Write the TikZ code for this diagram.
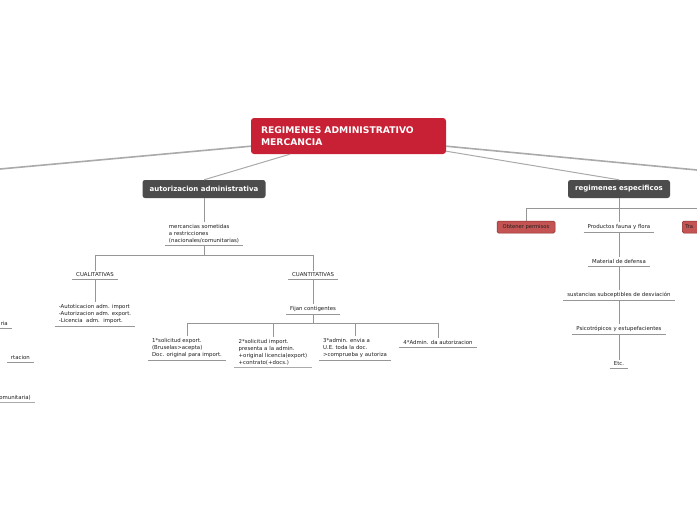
\documentclass[tikz,border=0pt]{standalone}
\usepackage{fontspec}
\setmainfont{DejaVu Sans}
\usetikzlibrary{calc}
\definecolor{rootred}{RGB}{200,32,52}
\definecolor{darkg}{RGB}{76,76,76}
\definecolor{lineg}{RGB}{170,170,170}
\definecolor{conng}{RGB}{150,150,150}
\definecolor{permfill}{RGB}{196,84,84}
\definecolor{permdraw}{RGB}{140,40,40}
\definecolor{txtc}{RGB}{30,30,30}
\begin{document}
\begin{tikzpicture}[x=1pt,y=-1pt,
  thickline/.style={draw=lineg, line width=1.6pt},
  thinline/.style={draw=lineg, line width=1pt},
  conn/.style={draw=conng, line width=0.7pt},
  ul/.style={draw=conng, line width=0.6pt},
  rootbox/.style={fill=rootred, rounded corners=3pt, text=white, font=\fontsize{9.2}{12}\selectfont\bfseries, align=left, minimum width=195pt, minimum height=36pt, text width=175pt, inner sep=0pt},
  darkbox/.style={fill=darkg, rounded corners=2.5pt, text=white, font=\fontsize{7}{8}\selectfont\bfseries, minimum height=18pt, inner sep=0pt},
  txt/.style={font=\fontsize{5.4}{7}\selectfont, align=left, inner xsep=4pt, inner ysep=2pt, text=txtc},
  permbox/.style={fill=permfill, draw=permdraw, line width=0.5pt, rounded corners=1.5pt, font=\fontsize{5.2}{6}\selectfont, text=txtc, minimum height=12pt, inner sep=0pt}
]
\useasboundingbox[fill=white] (0,0) rectangle (697,520);

% main nodes
\node[rootbox] (root) at (348.5,136) {REGIMENES ADMINISTRATIVO\\MERCANCIA};
\node[darkbox, minimum width=123pt] (auto) at (204,189) {autorizacion administrativa};
\node[darkbox, minimum width=102pt] (reg) at (619,189) {regimenes especificos};

% left branch texts
\node[txt, anchor=south] (merc) at (204,245) {mercancias sometidas\\a restricciones\\(nacionales/comunitarias)};
\node[txt, anchor=south] (cual) at (95,279) {CUALITATIVAS};
\node[txt, anchor=south] (cuan) at (313,279) {CUANTITATIVAS};
\node[txt, anchor=south] (lic) at (95,326) {-Autoticacion adm. import\\-Autorizacion adm. export.\\-Licencia\ \ adm.\ \ import.};
\node[txt, anchor=south] (fijan) at (313,314) {Fijan contigentes};
\node[txt, anchor=south] (s1) at (187,360) {1*solicitud export.\\(Bruselas>acepta)\\Doc. original para import.};
\node[txt, anchor=south] (s2) at (273,367) {2*solicitud import.\\presenta a la admin.\\+original licencia(export)\\+contrato(+docs.)};
\node[txt, anchor=south] (s3) at (355,360) {3*admin. envia a\\U.E. toda la doc.\\>comprueba y autoriza};
\node[txt, anchor=south] (s4) at (438,347) {4*Admin. da autorizacion};

% cut texts on the left edge
\node[txt, anchor=south east] (c1) at (12,328) {ria};
\node[txt, anchor=south east] (c2) at (34,362) {rtacion};
\node[txt, anchor=south east] (c3) at (35,402) {omunitaria)};

% right branch
\node[permbox, minimum width=58pt] (obt) at (526,227) {Obtener permisos};
\node[permbox, minimum width=40pt, anchor=west, text width=34pt, align=left] (tra) at (682,227) {Tra};
\node[txt, anchor=south] (prod) at (619,232) {Productos fauna y flora};
\node[txt, anchor=south] (mat) at (619,266) {Material de defensa};
\node[txt, anchor=south] (sust) at (619,300) {sustancias subceptibles de desviación};
\node[txt, anchor=south] (psic) at (619,334) {Psicotrópicos y estupefacientes};
\node[txt, anchor=south] (etc) at (619,368) {Etc.};

% underlines
\foreach \n in {merc,cual,cuan,lic,fijan,s1,s3,s4,prod,mat,sust,psic,etc,c1,c2}
  \draw[ul] (\n.south west) -- (\n.south east);
\draw[draw=lineg, line width=1pt] (s2.south west) -- (s2.south east);
\draw[draw=lineg, line width=1pt] (c3.south west) -- (c3.south east);

% free ends
\coordinate (L) at (0,169);
\coordinate (R) at (697,170);
\coordinate (j1) at (204,255);
\coordinate (j2) at (313,323);
\coordinate (j3) at (619,208);
\coordinate (rEdge) at (697,208);

% root connectors
\draw[thickline] ($(root.south west)+(0,-8)$) -- (L);
\draw[thickline] ($(root.south east)+(0,-8)$) -- (R);
\draw[thinline] ($(root.south east)+(0,-3)$) -- (reg.north);
\draw[thinline] ($(root.south west)!0.2!(root.south east)$) -- (auto.north);

% tree connectors, left
\draw[conn] (auto.south) -- (merc.north);
\draw[conn] (merc.south) -- (j1);
\draw[conn] (j1) -| (cual.north);
\draw[conn] (j1) -| (cuan.north);
\draw[conn] (cual.south) -- (lic.north);
\draw[conn] (cuan.south) -- (fijan.north);
\draw[conn] (fijan.south) -- (j2);
\draw[conn] (j2) -| (s1.north);
\draw[conn] (j2) -| (s2.north);
\draw[conn] (j2) -| (s3.north);
\draw[conn] (j2) -| (s4.north);

% tree connectors, right
\draw[conn] (reg.south) -- (j3);
\draw[conn] (j3) -| (obt.north);
\draw[conn] (j3) -- (prod.north);
\draw[conn] (j3) -- (rEdge);
\draw[conn] (prod.south) -- (mat.north);
\draw[conn] (mat.south) -- (sust.north);
\draw[conn] (sust.south) -- (psic.north);
\draw[conn] (psic.south) -- (etc.north);
\end{tikzpicture}
\end{document}
